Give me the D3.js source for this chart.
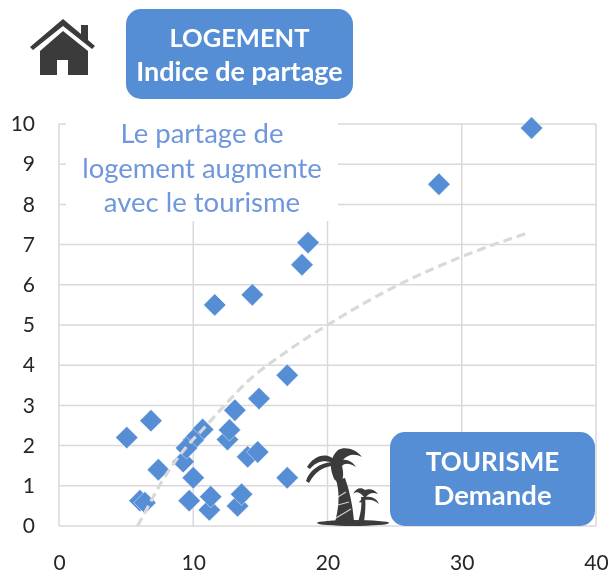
<!doctype html>
<html>
  <head>
    <meta charset="utf-8">
    <script src="https://cdn.jsdelivr.net/npm/d3@7"></script>
    <style>
      html, body { margin: 0; padding: 0; background: #fff; }
      svg { display: block; }
    </style>
  </head>
  <body>
    <script>
    // values
    var tourisme = [35.2, 28.3, 18.55, 18.1, 11.6, 14.4, 17, 14.9, 13.1, 5.05, 6.85, 7.4, 9.25, 10, 9.7,
                    11.2, 11.3, 13.3, 13.6, 17, 14.05, 14.8, 12.55, 12.7, 10.7, 10, 9.5, 6.03, 6.4];
    var partage = [9.9, 8.5, 7.05, 6.5, 5.5, 5.75, 3.75, 3.17, 2.88, 2.2, 2.62, 1.4, 1.6, 1.2, 0.63,
                   0.4, 0.73, 0.5, 0.79, 1.2, 1.72, 1.84, 2.15, 2.39, 2.4, 2.14, 1.94, 0.63, 0.58];

    var trendX = [5.85, 6.5, 7.6, 9.5, 10.7, 12.2, 13.9, 17, 20, 25, 30, 35];
    var trendY = [0, 0.4, 1.07, 1.97, 2.4, 2.95, 3.55, 4.35, 5, 5.95, 6.7, 7.3];

    var xTicks = [0, 10, 20, 30, 40];
    var yTicks = [0, 1, 2, 3, 4, 5, 6, 7, 8, 9, 10];

    var noteLines = ["Le partage de", "logement augmente", "avec le tourisme"];
    var logementLines = ["LOGEMENT", "Indice de partage"];
    var logementSizes = [25.5, 27];
    var tourismeLines = ["TOURISME", "Demande"];
    var tourismeSizes = [26, 27.5];

    var width = 608;
    var height = 572;
    var margin = { top: 124, right: 12, bottom: 46, left: 59 };
    var innerWidth = width - margin.left - margin.right;
    var innerHeight = height - margin.top - margin.bottom;

    var blue = "#558ed5";
    var grey = "#d9d9d9";
    var dark = "#3a3a3a";

    var svg = d3.select("body").append("svg")
      .attr("width", width)
      .attr("height", height)
      .style("font-family", "Lato, sans-serif");

    // the reference is a soft, upscaled screenshot
    svg.append("filter").attr("id", "soft")
      .attr("filterUnits", "userSpaceOnUse")
      .attr("x", 0).attr("y", 0).attr("width", width).attr("height", height)
      .append("feGaussianBlur").attr("stdDeviation", 0.55);

    var root = svg.append("g").attr("filter", "url(#soft)");

    var g = root.append("g")
      .attr("transform", "translate(" + margin.left + "," + margin.top + ")");

    var xScale = d3.scaleLinear().domain([0, 40]).range([0, innerWidth]);
    var yScale = d3.scaleLinear().domain([0, 10]).range([innerHeight, 0]);

    // gridlines
    g.append("g").selectAll("line")
      .data(yTicks).enter().append("line")
      .attr("x1", 0).attr("x2", innerWidth)
      .attr("y1", function(d) { return yScale(d); })
      .attr("y2", function(d) { return yScale(d); })
      .attr("stroke", grey).attr("stroke-width", 1.5);

    g.append("g").selectAll("line")
      .data(xTicks).enter().append("line")
      .attr("x1", function(d) { return xScale(d); })
      .attr("x2", function(d) { return xScale(d); })
      .attr("y1", 0).attr("y2", innerHeight)
      .attr("stroke", grey).attr("stroke-width", 1.5);

    // axes, labels only
    var xAxis = g.append("g")
      .attr("transform", "translate(0," + innerHeight + ")")
      .call(d3.axisBottom(xScale).tickValues(xTicks).tickSize(0).tickPadding(29));
    var yAxis = g.append("g")
      .call(d3.axisLeft(yScale).tickValues(yTicks).tickSize(0).tickPadding(24));
    xAxis.select(".domain").remove();
    yAxis.select(".domain").remove();
    [xAxis, yAxis].forEach(function(a) {
      a.selectAll("text")
        .attr("fill", "#262626")
        .style("font-family", "Lato, sans-serif")
        .style("font-size", "21px");
    });

    // white label box hides the grid behind the note
    g.append("rect")
      .attr("x", 7).attr("y", -8)
      .attr("width", 272).attr("height", 105)
      .attr("fill", "#fff");

    root.append("g").selectAll("text")
      .data(noteLines).enter().append("text")
      .attr("x", 202)
      .attr("y", function(d, i) { return 143 + i * 34.5; })
      .attr("text-anchor", "middle")
      .attr("fill", "#6f97dc")
      .style("font-size", "27.5px")
      .text(function(d) { return d; });

    // points
    g.append("g").selectAll("path")
      .data(tourisme).enter().append("path")
      .attr("d", d3.symbol().type(d3.symbolSquare).size(250))
      .attr("transform", function(d, i) {
        return "translate(" + xScale(d) + "," + yScale(partage[i]) + ") rotate(45)";
      })
      .attr("fill", blue)
      .attr("stroke", "#fff")
      .attr("stroke-opacity", 0.55)
      .attr("stroke-width", 0.8);

    // trend curve on top of the points
    var trendLine = d3.line()
      .x(function(d, i) { return xScale(trendX[i]); })
      .y(function(d) { return yScale(d); })
      .curve(d3.curveMonotoneX);

    g.append("path")
      .datum(trendY)
      .attr("d", trendLine)
      .attr("fill", "none")
      .attr("stroke", "#d9d9d9")
      .attr("stroke-width", 3.2)
      .attr("stroke-dasharray", "9 5");

    // title boxes
    function box(x, y, w, h, lines, sizes, firstY, step) {
      root.append("rect")
        .attr("x", x).attr("y", y)
        .attr("width", w).attr("height", h)
        .attr("rx", 15)
        .attr("fill", blue);
      root.append("g").selectAll("text")
        .data(lines).enter().append("text")
        .attr("x", x + w / 2)
        .attr("y", function(d, i) { return firstY + i * step; })
        .attr("text-anchor", "middle")
        .attr("fill", "#fff")
        .attr("font-weight", "bold")
        .style("font-size", function(d, i) { return sizes[i] + "px"; })
        .text(function(d) { return d; });
    }
    box(126, 9, 227, 90, logementLines, logementSizes, 47, 34);
    box(390, 432, 205, 94, tourismeLines, tourismeSizes, 471, 34);

    // house icon
    var house = root.append("g").attr("fill", dark);
    house.append("path").attr("d", "M30,47 L63,19 L81,34 L81,25 L88,25 L88,40 L95,46 L92,49 L63,26 L33,50 Z");
    house.append("path").attr("d", "M40,51 L63,31 L88,51 L88,75 L68,75 L68,60 L57,60 L57,75 L40,75 Z");

    // palm icon
    var palm = root.append("g").attr("fill", dark);
    palm.append("ellipse").attr("cx", 353).attr("cy", 523).attr("rx", 36).attr("ry", 3);
    palm.append("path").attr("d", "M335,522 C339,508 340,492 336,480 L345,478 C350,492 353,507 354,522 Z");
    palm.append("path").attr("d", "M333,476 C329,466 331,456 338,450 C345,446 356,449 362,457 C354,453 347,455 343,460 C347,459 353,462 356,467 C349,463 345,463 342,466 C343,470 344,476 342,480 C338,483 334,481 333,476 Z");
    palm.append("path").attr("d", "M334,464 C327,459 316,461 310,469 L307,467 C312,459 320,454 328,456 C332,457 335,460 336,462 Z");
    palm.append("path").attr("d", "M334,466 C323,466 314,473 309,483 L306,481 C309,471 319,463 332,462 Z");
    palm.append("path").attr("d", "M358,522 C361,513 362,505 361,497 L365,497 C366,506 365,514 364,522 Z");
    palm.append("path").attr("d", "M364,497 C360,492 356,491 353,494 C356,488 361,487 365,490 C370,488 375,490 378,494 C373,492 369,493 366,497 C372,496 377,499 379,504 C375,500 370,499 364,500 C362,502 360,503 359,502 Z");

    // light stripes across the trunk
    var stripes = root.append("g").attr("stroke", "#fff").attr("stroke-width", 1.2).attr("opacity", 0.75);
    stripes.append("line").attr("x1", 338).attr("y1", 497).attr("x2", 346).attr("y2", 492);
    stripes.append("line").attr("x1", 338).attr("y1", 505).attr("x2", 349).attr("y2", 502);
    stripes.append("line").attr("x1", 336).attr("y1", 518).attr("x2", 351).attr("y2", 509);
    </script>
  </body>
</html>
